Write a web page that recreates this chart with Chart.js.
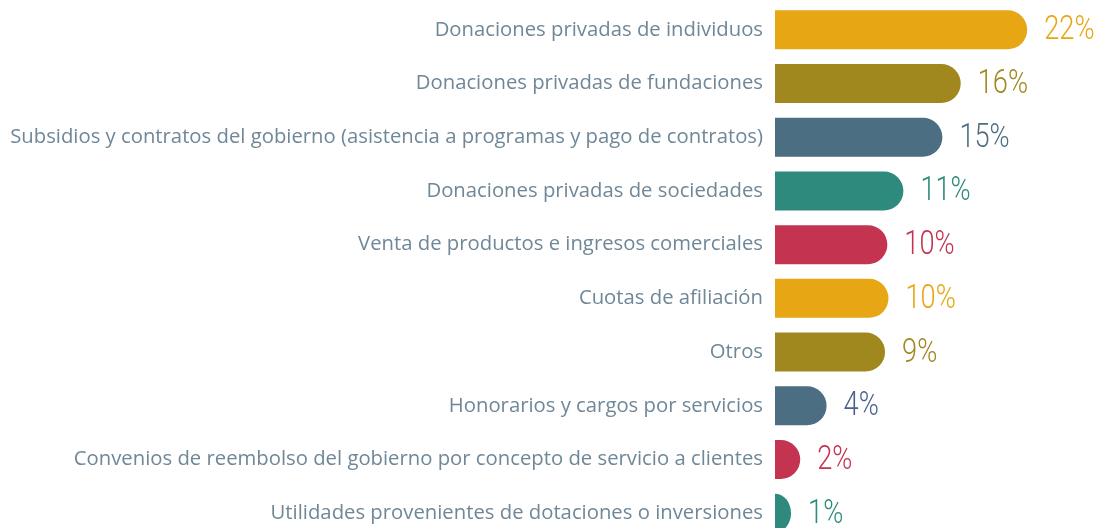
<!DOCTYPE html>
<html lang="es">
<head>
<meta charset="utf-8">
<title>Fuentes de ingreso</title>
<script src="https://cdn.jsdelivr.net/npm/chart.js@4/dist/chart.umd.min.js"></script>
<style>
  html, body { margin: 0; padding: 0; background: #fff; overflow: hidden; }
  #wrap { position: relative; width: 1100px; height: 540px; }
</style>
</head>
<body>
<div id="wrap"><canvas id="fuentesChart"></canvas></div>
<script>
// Categorias
const categorias = [
    "Donaciones privadas de individuos",
    "Donaciones privadas de fundaciones",
    "Subsidios y contratos del gobierno (asistencia a programas y pago de contratos)",
    "Donaciones privadas de sociedades",
    "Venta de productos e ingresos comerciales",
    "Cuotas de afiliación",
    "Otros",
    "Honorarios y cargos por servicios",
    "Convenios de reembolso del gobierno por concepto de servicio a clientes",
    "Utilidades provenientes de dotaciones o inversiones"
];

// Porcentajes (largo de barra estimado) y etiquetas impresas
const porcentajes = [22.0, 16.2, 14.6, 11.2, 9.8, 9.9, 9.6, 4.5, 2.2, 1.4];
const etiquetas = ["22%", "16%", "15%", "11%", "10%", "10%", "9%", "4%", "2%", "1%"];

// Colores
const coloresBarras = [
    "#E7A614", "#A0881E", "#4C6E82", "#2E8A7C", "#C4334F",
    "#E7A614", "#A0881E", "#4C6E82", "#C4334F", "#2E8A7C"
];
const coloresEtiquetas = [
    "#E7A614", "#A0881E", "#4C6E82", "#2E8A7C", "#C4334F",
    "#E7A614", "#A0881E", "#4B618A", "#C4334F", "#2E8A7C"
];

// Barras con extremo redondeado completo (semicirculo o semielipse)
const barrasPlugin = {
    id: 'barrasPlugin',
    beforeDatasetDraw(chart, args) {
        const ctx = chart.ctx;
        const meta = args.meta;
        meta.data.forEach((bar, i) => {
            const {x, y, base, height} = bar.getProps(['x', 'y', 'base', 'height'], true);
            const r = height / 2;
            const w = x - base;
            ctx.save();
            ctx.fillStyle = coloresBarras[i];
            ctx.beginPath();
            if (w >= r) {
                ctx.moveTo(base, y - r);
                ctx.lineTo(x - r, y - r);
                ctx.arc(x - r, y, r, -Math.PI / 2, Math.PI / 2);
                ctx.lineTo(base, y + r);
            } else {
                ctx.moveTo(base, y - r);
                ctx.ellipse(base, y, w, r, 0, -Math.PI / 2, Math.PI / 2);
            }
            ctx.closePath();
            ctx.fill();
            ctx.restore();
        });
        return false;
    }
};

// Etiquetas de valor (fuente condensada)
const valorPlugin = {
    id: 'valorPlugin',
    afterDatasetsDraw(chart) {
        const ctx = chart.ctx;
        const meta = chart.getDatasetMeta(0);
        ctx.save();
        ctx.font = '300 34px Roboto';
        ctx.textBaseline = 'middle';
        ctx.textAlign = 'left';
        meta.data.forEach((bar, i) => {
            ctx.save();
            ctx.translate(bar.x + 17, bar.y + 1);
            ctx.scale(0.8, 1);
            ctx.fillStyle = coloresEtiquetas[i];
            ctx.fillText(etiquetas[i], 0, 0);
            ctx.restore();
        });
        ctx.restore();
    }
};

const ctx = document.getElementById('fuentesChart').getContext('2d');
const fuentesChart = new Chart(ctx, {
    type: 'bar',
    data: {
        labels: categorias,
        datasets: [{
            data: porcentajes,
            backgroundColor: coloresBarras,
            borderWidth: 0,
            barThickness: 39
        }]
    },
    options: {
        indexAxis: 'y',
        responsive: true,
        maintainAspectRatio: false,
        animation: false,
        layout: { padding: { top: 3, right: 4, left: 0, bottom: 0 } },
        plugins: {
            legend: { display: false },
            tooltip: { enabled: false }
        },
        scales: {
            x: {
                display: false,
                min: 0,
                max: 28
            },
            y: {
                grid: { display: false, drawTicks: false },
                border: { display: false },
                afterFit: (scale) => {
                    scale.width = 775;
                    scale.paddingTop = 0;
                    scale.paddingBottom = 0;
                },
                ticks: {
                    padding: 12,
                    color: '#6F8797',
                    font: { family: "'Open Sans', 'Noto Sans', sans-serif", size: 20.3 }
                }
            }
        }
    },
    plugins: [barrasPlugin, valorPlugin]
});
</script>
</body>
</html>
